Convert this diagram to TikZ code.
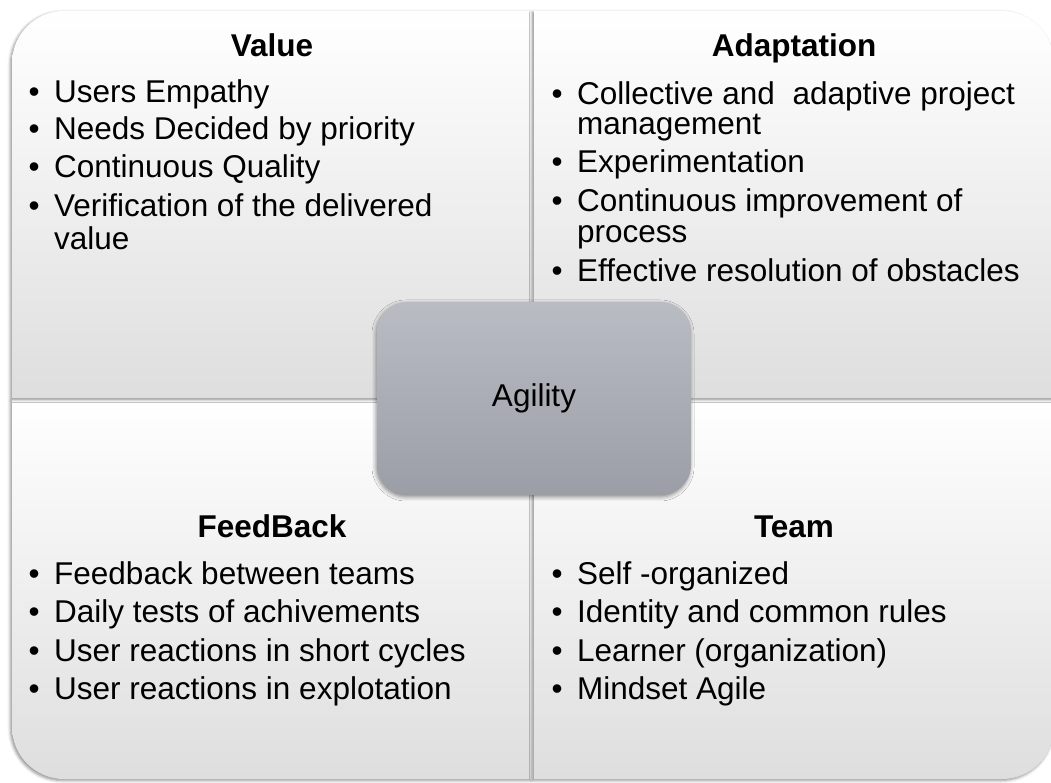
\documentclass[tikz,border=0pt]{standalone}
\usepackage{fontspec}
\setmainfont{Liberation Sans}
\usetikzlibrary{shadows.blur}
\definecolor{qbot}{RGB}{222,222,222}
\definecolor{agtop}{RGB}{185,188,195}
\definecolor{agbot}{RGB}{155,158,166}
\newcommand\bodyfont{\fontsize{31.5}{36}\selectfont}
\newcommand\bitem[4]{%
  \node[bul] (#1b) at (#2-25.5,#3) {•};
  \node[itm] (#1) at (#2,#3) {#4};}
\newcommand\citem[4]{\node[itm] (#1) at (#2,#3) {#4};}
\begin{document}
\begin{tikzpicture}[x=1pt,y=1pt,
  quad/.style={top color=white, middle color=white, bottom color=qbot,
    blur shadow={shadow xshift=-1.5pt, shadow yshift=-1.5pt, shadow blur radius=3pt, shadow opacity=45}},
  agbox/.style={rectangle, rounded corners=30pt, minimum width=314pt, minimum height=193pt,
    top color=agtop, bottom color=agbot, inner sep=0pt, font=\bodyfont,
    blur shadow={shadow xshift=-1pt, shadow yshift=-2pt, shadow blur radius=4pt, shadow opacity=45}},
  ttl/.style={anchor=base, inner sep=0pt, font=\bodyfont\bfseries},
  itm/.style={anchor=base west, inner sep=0pt, font=\bodyfont},
  bul/.style={anchor=base west, inner sep=0pt, font=\bodyfont}]
\useasboundingbox (0,0) rectangle (1051,782);
% quadrants
\path[quad] (12,382) -- (12,55) arc[start angle=180, end angle=270, radius=52] -- (532,3) -- (532,382) -- cycle;
\path[quad] (534,382) -- (534,3) -- (1002,3) arc[start angle=270, end angle=360, radius=52] -- (1054,382) -- cycle;
\path[quad] (12,384) -- (12,719) arc[start angle=180, end angle=90, radius=52] -- (532,771) -- (532,384) -- cycle;
\path[quad] (534,384) -- (534,771) -- (1002,771) arc[start angle=90, end angle=0, radius=52] -- (1054,384) -- cycle;
% titles
\node[ttl] (tV) at (272,725) {Value};
\node[ttl] (tA) at (794,725) {Adaptation};
\node[ttl] (tF) at (272,244) {FeedBack};
\node[ttl] (tT) at (794,244) {Team};
% Value
\bitem{v1}{54}{679}{Users Empathy}
\bitem{v2}{54}{642}{Needs Decided by priority}
\bitem{v3}{54}{604}{Continuous Quality}
\bitem{v4}{54}{565}{Verification of the delivered}
\citem{v4c}{54}{532}{value}
% Adaptation
\bitem{a1}{577}{677}{Collective and\ \ adaptive project}
\citem{a1c}{577}{647}{management}
\bitem{a2}{577}{609}{Experimentation}
\bitem{a3}{577}{570}{Continuous improvement of}
\citem{a3c}{577}{539}{process}
\bitem{a4}{577}{500}{Effective resolution of obstacles}
% FeedBack
\bitem{f1}{54}{198}{Feedback between teams}
\bitem{f2}{54}{159.5}{Daily tests of achivements}
\bitem{f3}{54}{121}{User reactions in short cycles}
\bitem{f4}{54}{83}{User reactions in explotation}
% Team
\bitem{m1}{577}{198}{Self -organized}
\bitem{m2}{577}{159.5}{Identity and common rules}
\bitem{m3}{577}{121}{Learner (organization)}
\bitem{m4}{577}{83}{Mindset Agile}
% center
\node[agbox] (agility) at (534,383.5) {Agility};
\end{tikzpicture}
\end{document}
